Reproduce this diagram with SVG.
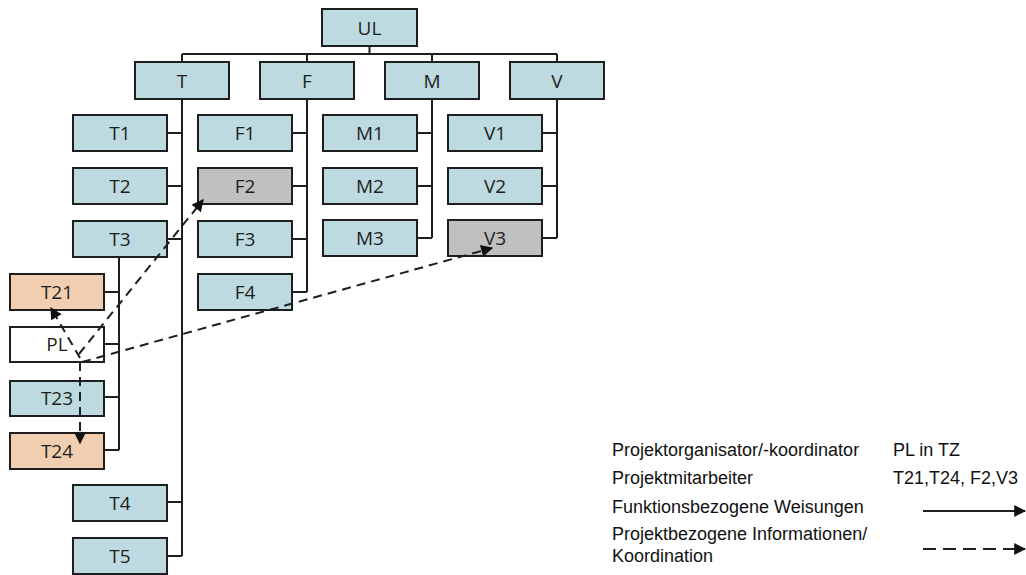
<svg xmlns="http://www.w3.org/2000/svg" width="1026" height="575" viewBox="0 0 1026 575">
<defs>
<style>
.n rect{stroke:#1e1e1e;stroke-width:2}
.b{fill:#bcdadf}
.p{fill:#f2ceb0}
.g{fill:#c0c0c0}
.w{fill:#ffffff}
.n text{font-family:"Open Sans","Noto Sans",sans-serif;font-size:19px;fill:#1e1e1e;text-anchor:middle}
.c path{fill:none;stroke:#1e1e1e;stroke-width:2}
.c .d{stroke-dasharray:9 6}
.c .ld{stroke-dasharray:13 7}
.l{font-family:"Liberation Sans",Arial,sans-serif;font-size:18px;fill:#111}
</style>
<marker id="ah" viewBox="0 0 10 10" refX="9" refY="5" markerWidth="6.5" markerHeight="6" orient="auto" markerUnits="strokeWidth"><path d="M0,0 L10,5 L0,10 z" fill="#111"/></marker>
</defs>
<g class="c" id="connectors">
<path d="M369.5,46 V54 M182,54 H557 M182,54 V62 M307,54 V62 M432,54 V62 M557,54 V62"/>
<path d="M182,99 V556 M167,133 H182 M167,186 H182 M167,239 H182 M167,502 H182 M167,556 H182"/>
<path d="M307,99 V292 M292,133 H307 M292,186 H307 M292,239 H307 M292,292 H307"/>
<path d="M432,99 V238 M417,133 H432 M417,186 H432 M417,238 H432"/>
<path d="M557,99 V238 M542,133 H557 M542,186 H557 M542,238 H557"/>
<path d="M119,257 V450 M104,292 H119 M104,344 H119 M104,397 H119 M104,450 H119"/>
</g>
<g class="n" id="UL"><rect class="b" x="322" y="9" width="95" height="37"/><text x="369.5" y="34.5">UL</text></g>
<g class="n" id="T"><rect class="b" x="135" y="62" width="94" height="37"/><text x="182" y="87.5">T</text></g>
<g class="n" id="F"><rect class="b" x="260" y="62" width="94" height="37"/><text x="307" y="87.5">F</text></g>
<g class="n" id="M"><rect class="b" x="385" y="62" width="94" height="37"/><text x="432" y="87.5">M</text></g>
<g class="n" id="V"><rect class="b" x="510" y="62" width="94" height="37"/><text x="557" y="87.5">V</text></g>
<g class="n" id="T1"><rect class="b" x="73" y="115" width="94" height="36"/><text x="120" y="140">T1</text></g>
<g class="n" id="T2"><rect class="b" x="73" y="168" width="94" height="36"/><text x="120" y="193">T2</text></g>
<g class="n" id="T3"><rect class="b" x="73" y="221" width="94" height="36"/><text x="120" y="246">T3</text></g>
<g class="n" id="T4"><rect class="b" x="73" y="485" width="94" height="36"/><text x="120" y="510">T4</text></g>
<g class="n" id="T5"><rect class="b" x="73" y="538" width="94" height="36"/><text x="120" y="563">T5</text></g>
<g class="n" id="F1"><rect class="b" x="198" y="115" width="94" height="36"/><text x="245" y="140">F1</text></g>
<g class="n" id="F2"><rect class="g" x="198" y="168" width="94" height="36"/><text x="245" y="193">F2</text></g>
<g class="n" id="F3"><rect class="b" x="198" y="221" width="94" height="36"/><text x="245" y="246">F3</text></g>
<g class="n" id="F4"><rect class="b" x="198" y="274" width="94" height="36"/><text x="245" y="299">F4</text></g>
<g class="n" id="M1"><rect class="b" x="323" y="115" width="94" height="36"/><text x="370" y="140">M1</text></g>
<g class="n" id="M2"><rect class="b" x="323" y="168" width="94" height="36"/><text x="370" y="193">M2</text></g>
<g class="n" id="M3"><rect class="b" x="323" y="220" width="94" height="36"/><text x="370" y="245">M3</text></g>
<g class="n" id="V1"><rect class="b" x="448" y="115" width="94" height="36"/><text x="495" y="140">V1</text></g>
<g class="n" id="V2"><rect class="b" x="448" y="168" width="94" height="36"/><text x="495" y="193">V2</text></g>
<g class="n" id="V3"><rect class="g" x="448" y="220" width="94" height="36"/><text x="495" y="245">V3</text></g>
<g class="n" id="T21"><rect class="p" x="10" y="274" width="94" height="36"/><text x="57" y="299">T21</text></g>
<g class="n" id="PL"><rect class="w" x="10" y="327" width="94" height="35"/><text x="57" y="351">PL</text></g>
<g class="n" id="T23"><rect class="b" x="10" y="381" width="94" height="35"/><text x="57" y="405">T23</text></g>
<g class="n" id="T24"><rect class="p" x="10" y="433" width="94" height="36"/><text x="57" y="458">T24</text></g>
<g class="c" id="dashed-connectors">
<path class="d" d="M80,358 L51,308" marker-end="url(#ah)"/>
<path class="d" d="M79,354 L203,200" marker-end="url(#ah)"/>
<path class="d" d="M82,362 L492,248" marker-end="url(#ah)"/>
<path class="d" d="M80,362 V443" marker-end="url(#ah)"/>
</g>
<g id="legend">
<text class="l" x="612" y="456">Projektorganisator/-koordinator</text>
<text class="l" x="893" y="456">PL in TZ</text>
<text class="l" x="612" y="484">Projektmitarbeiter</text>
<text class="l" x="893" y="484">T21,T24, F2,V3</text>
<text class="l" x="612" y="513">Funktionsbezogene Weisungen</text>
<text class="l" x="612" y="540">Projektbezogene Informationen/</text>
<text class="l" x="612" y="562">Koordination</text>
<g class="c"><path d="M923,511 H1025" marker-end="url(#ah)"/><path class="ld" d="M923,549 H1025" marker-end="url(#ah)"/></g>
</g>
</svg>
